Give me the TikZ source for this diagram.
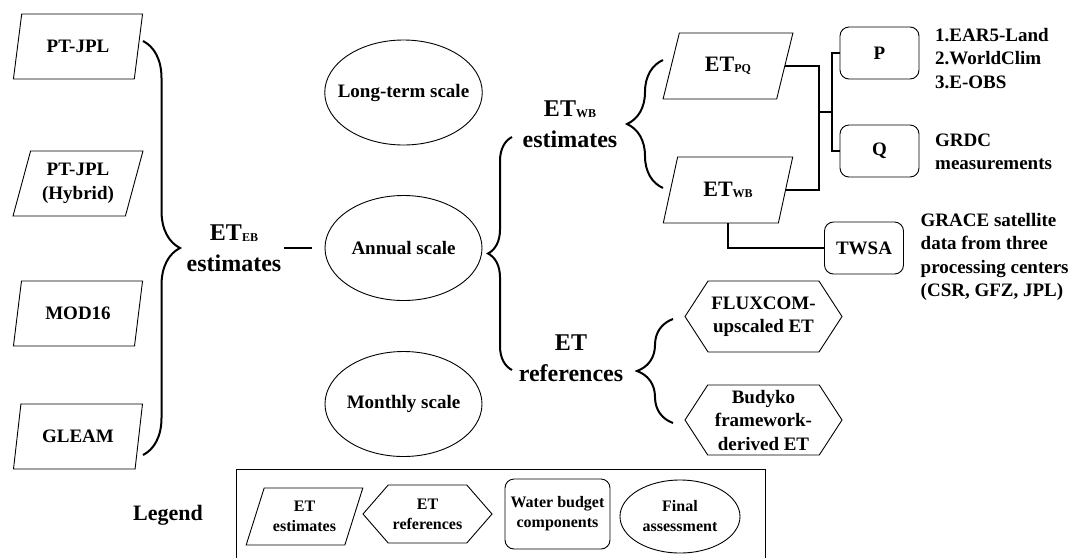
\documentclass[tikz,border=0pt]{standalone}
\usepackage{fontspec}
\setmainfont{Liberation Serif}
\usetikzlibrary{positioning, shapes.geometric, shapes.symbols, decorations.pathreplacing, calc}

% small caps-like subscript after ET
\newcommand{\etsub}[1]{\raisebox{-1.5pt}{\fontsize{12}{12}\selectfont #1}}

\begin{document}
\begin{tikzpicture}[
  x=1pt, y=-1pt,
  font=\bfseries\fontsize{19}{23.5}\selectfont,
  model/.style={draw, line width=0.9pt, trapezium, trapezium left angle=72, trapezium right angle=108,
    trapezium stretches=true, minimum width=130pt, minimum height=65pt, align=center, inner sep=1pt, outer sep=0pt},
  wbterm/.style={model, trapezium left angle=68, trapezium right angle=112, minimum height=66pt},
  refterm/.style={draw, line width=0.9pt, signal, signal to=west and east, signal pointer angle=114,
    minimum width=157pt, minimum height=71pt, align=center, inner sep=1pt, outer sep=0pt},
  comp/.style={draw, line width=0.9pt, rounded corners=9pt, minimum width=79pt, minimum height=52pt,
    align=center, inner sep=1pt, outer sep=0pt},
  period/.style={draw, line width=0.9pt, ellipse, minimum width=157pt, minimum height=105pt,
    align=center, inner xsep=-10pt, inner ysep=0pt, outer sep=0pt},
  biglabel/.style={align=center, inner sep=2pt, font=\bfseries\fontsize{24}{31}\selectfont},
  note/.style={align=left, inner sep=0pt, anchor=west},
  key/.style={font=\bfseries\fontsize{16}{20}\selectfont},
  curly/.style={decorate, decoration={brace, amplitude=#1}, line width=2pt},
  link/.style={line width=1.1pt}
]
\useasboundingbox (0,0) rectangle (1072,558);

% ET estimates from the energy balance models
\node[model] (ptjpl) at (78,46.5) {PT-JPL};
\node[model] (hybrid) at (78,183.5) {PT-JPL\\(Hybrid)};
\node[model] (mod16) at (78,313.5) {MOD16};
\node[model] (gleam) at (78,436.5) {GLEAM};

\coordinate (ebtop) at (143,41);
\coordinate (ebbot) at (143,455);
\draw[curly=37pt] (ebtop) -- (ebbot);
\node[biglabel] (ebest) at (234,248) {ET\etsub{EB}\\estimates};

% time scales
\node[period] (longterm) at (403.5,92.5) {Long-term scale};
\node[period, below=50.5pt of longterm] (annual) {Annual scale};
\node[period, below=51pt of annual] (monthly) {Monthly scale};
\draw[line width=2pt, shorten >=13pt] (ebest.east |- annual.west) -- (annual.west);

% water balance side
\coordinate (midbot) at (512,370);
\coordinate (midtop) at (512,137);
\draw[curly=24pt] (midbot) -- (midtop);
\node[biglabel] (wbest) at (570,124) {ET\etsub{WB}\\estimates};
\node[biglabel] (refs) at (571,358) {ET\\references};

\coordinate (wbbot) at (663,188);
\coordinate (wbtop) at (663,60);
\draw[curly=36pt] (wbbot) -- (wbtop);
\node[wbterm] (pq) at (728,66) {\fontsize{22}{24}\selectfont ET\etsub{PQ}};
\node[wbterm, below=58pt of pq] (wb) {\fontsize{22}{24}\selectfont ET\etsub{WB}};

\node[comp] (pbox) at (879.5,53) {P};
\node[comp, below=46pt of pbox] (qbox) {Q};
\node[comp] (twsa) at (864,248) {TWSA};

\node[note, right=16pt of pbox, yshift=-5.5pt] (pnote) {1.EAR5-Land\\2.WorldClim\\3.E-OBS};
\node[note, right=16pt of qbox, yshift=-1pt] (qnote) {GRDC\\measurements};
\node[note, right=17pt of twsa, yshift=-9pt] (twsanote) {GRACE satellite\\data from three\\processing centers\\(CSR, GFZ, JPL)};

\coordinate (wbjoin) at (819,112);
\coordinate (pqsplit) at (832,112);
\draw[link] (pq.east) -| (wbjoin) |- (wb.east);
\draw[link] (wbjoin) -- (pqsplit);
\draw[link] (pbox.west) -| (pqsplit) |- (qbox.west);
\draw[link] (wb.south) |- (twsa.west);

% reference products
\coordinate (refbot) at (673,423);
\coordinate (reftop) at (673,319);
\draw[curly=36pt] (refbot) -- (reftop);
\node[refterm] (fluxcom) at (763.5,316.5) {FLUXCOM-\\upscaled ET};
\node[refterm, minimum height=70pt] (budyko) at (763.5,420) {Budyko\\framework-\\derived ET};

% legend
\node[font=\bfseries\fontsize{22}{26}\selectfont] (legend) at (168,515) {Legend};
\draw[line width=0.9pt] (236,558) |- (765,469) -- (765,558);
\node[model, key, trapezium left angle=66, trapezium right angle=114, minimum width=117pt, minimum height=57pt] (keyest) at (304.5,516.5) {ET\\estimates};
\node[refterm, key, signal pointer angle=98, minimum width=129pt, minimum height=58pt] (keyref) at (427.5,514) {ET\\references};
\node[comp, key, minimum width=105pt, minimum height=70pt] (keycomp) at (557.5,514) {Water budget\\components};
\node[period, key, minimum width=120pt, minimum height=73pt] (keyfinal) at (680,516.5) {Final\\assessment};
\end{tikzpicture}
\end{document}
